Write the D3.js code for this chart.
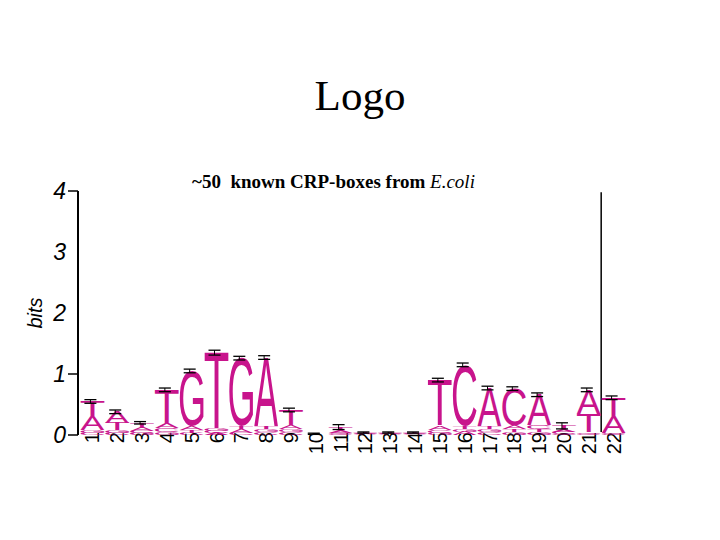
<!DOCTYPE html>
<html>
<head>
<meta charset="utf-8">
<script src="https://cdn.jsdelivr.net/npm/d3@7"></script>
<style>
  body { margin: 0; background: #fff; }
</style>
</head>
<body>
<svg width="720" height="540"></svg>
<script>
const svg = d3.select('svg');

// information content (bits) of each base, positions 1..22
const positions = d3.range(1, 23);
const bitsA = [0.22,0.18,0.05,0.08,0.06,0.03,0.05,1.12,0.06,0.005,0.03,0.01,0.01,0.01,0.06,0.05,0.62,0.06,0.50,0.04,0.40,0.27];
const bitsC = [0.04,0.03,0.04,0.06,0.04,0.03,0.04,0.05,0.05,0.005,0.02,0.01,0.01,0.01,0.05,1.00,0.05,0.60,0.06,0.03,0.02,0.02];
const bitsG = [0.04,0.05,0.03,0.05,0.90,0.04,1.12,0.05,0.05,0.005,0.02,0.01,0.01,0.01,0.04,0.05,0.05,0.05,0.05,0.02,0.02,0.02];
const bitsT = [0.25,0.12,0.08,0.55,0.05,1.25,0.05,0.05,0.25,0.005,0.06,0.01,0.01,0.01,0.75,0.05,0.05,0.05,0.05,0.06,0.30,0.30];
const errBits = [0.03,0.03,0.02,0.03,0.03,0.04,0.03,0.03,0.03,0.01,0.04,0.01,0.01,0.01,0.03,0.03,0.03,0.03,0.03,0.05,0.03,0.03];
const yTicks = [0, 1, 2, 3, 4];
const tickMarks = [0, 1, 4];

const letterColor = '#c8148c';

const x = d3.scaleLinear().domain([0.5, 22.5]).range([80, 626]);
const y = d3.scaleLinear().domain([0, 4]).range([435, 191]);
const colW = x(2) - x(1);

// title
svg.append('text')
  .attr('x', 360).attr('y', 110)
  .attr('text-anchor', 'middle')
  .style('font-family', '"Liberation Serif", "Times New Roman", serif')
  .style('font-size', '43px')
  .text('Logo');

const sub = svg.append('text')
  .attr('x', 192).attr('y', 188)
  .style('font-family', '"Liberation Serif", "Times New Roman", serif')
  .style('font-size', '19px')
  .style('font-weight', 'bold');
sub.append('tspan').text('~50\u00a0\u00a0known CRP-boxes from ');
sub.append('tspan').style('font-style', 'italic').style('font-weight', 'normal').text('E.coli');

// y axis
svg.append('line')
  .attr('x1', 78).attr('x2', 78)
  .attr('y1', y(4)).attr('y2', y(0))
  .attr('stroke', '#000').attr('stroke-width', 2);

svg.selectAll('.ytick')
  .data(tickMarks)
  .enter().append('line')
  .attr('x1', 68).attr('x2', 78)
  .attr('y1', d => y(d)).attr('y2', d => y(d))
  .attr('stroke', '#000').attr('stroke-width', 1.5);

svg.selectAll('.ylab')
  .data(yTicks)
  .enter().append('text')
  .attr('x', 66).attr('y', d => y(d) + 8)
  .attr('text-anchor', 'end')
  .style('font-family', '"Liberation Sans", Arial, sans-serif')
  .style('font-style', 'italic')
  .style('font-size', '23px')
  .text(d => d);

svg.append('text')
  .attr('transform', `translate(42, ${y(2)}) rotate(-90)`)
  .attr('text-anchor', 'middle')
  .style('font-family', '"Liberation Sans", Arial, sans-serif')
  .style('font-style', 'italic')
  .style('font-size', '20px')
  .text('bits');

// right line
svg.append('line')
  .attr('x1', x(21.5)).attr('x2', x(21.5))
  .attr('y1', y(3.98)).attr('y2', y(0.05))
  .attr('stroke', '#000').attr('stroke-width', 1.5);

// x labels
svg.selectAll('.xlab')
  .data(positions)
  .enter().append('text')
  .attr('transform', d => `translate(${x(d) + 7}, 432) rotate(-90)`)
  .attr('text-anchor', 'end')
  .style('font-family', '"Liberation Sans", Arial, sans-serif')
  .style('font-size', '20px')
  .text(d => d);

// letter measurement
const ctx = document.createElement('canvas').getContext('2d');
const letterFont = '"Liberation Sans", Arial, sans-serif';
ctx.font = `100px ${letterFont}`;
const metrics = {};
['A', 'C', 'G', 'T'].forEach(l => {
  const m = ctx.measureText(l);
  metrics[l] = {
    left: m.actualBoundingBoxLeft,
    right: m.actualBoundingBoxRight,
    asc: m.actualBoundingBoxAscent,
    desc: m.actualBoundingBoxDescent
  };
});

const stacks = positions.map((p, i) => {
  const items = [
    {letter: 'A', bits: bitsA[i]},
    {letter: 'C', bits: bitsC[i]},
    {letter: 'G', bits: bitsG[i]},
    {letter: 'T', bits: bitsT[i]}
  ].sort((a, b) => a.bits - b.bits);
  let base = 0;
  items.forEach(it => { it.y0 = base; base += it.bits; it.y1 = base; it.pos = p; });
  return {pos: p, items: items, total: base, err: errBits[i]};
});

const letterW = colW * 0.96;
const gLetters = svg.append('g');
stacks.forEach(s => {
  s.items.forEach(it => {
    const m = metrics[it.letter];
    const h = y(it.y0) - y(it.y1);
    if (h < 0.5) return;
    const x0 = x(s.pos) - letterW / 2;
    const sx = letterW / (m.left + m.right);
    const sy = h / (m.asc + m.desc);
    gLetters.append('text')
      .attr('transform', `translate(${x0 + m.left * sx}, ${y(it.y1) + m.asc * sy}) scale(${sx}, ${sy})`)
      .style('font-family', letterFont)
      .style('font-size', '100px')
      .attr('fill', letterColor)
      .text(it.letter);
  });
});

// error bars
const gErr = svg.append('g');
stacks.forEach(s => {
  const cx = x(s.pos) - 2;
  const top = y(s.total + s.err), bot = y(Math.max(0, s.total - s.err));
  gErr.append('line').attr('x1', cx).attr('x2', cx).attr('y1', top).attr('y2', bot)
    .attr('stroke', '#000').attr('stroke-width', 1);
  [top, bot].forEach(v => {
    gErr.append('line').attr('x1', cx - 6).attr('x2', cx + 6).attr('y1', v).attr('y2', v)
      .attr('stroke', '#000').attr('stroke-width', 1.3);
  });
});
</script>
</body>
</html>
